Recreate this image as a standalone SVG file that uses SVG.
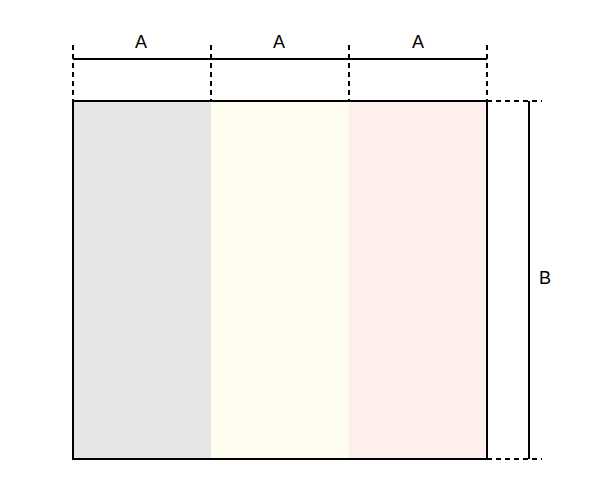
<svg xmlns="http://www.w3.org/2000/svg" width="593" height="480" viewBox="0 0 593 480">
<style>
.s{stroke:#000;stroke-width:2;fill:none}
.d{stroke:#000;stroke-width:2;fill:none;stroke-dasharray:5 4}
.t{font-family:"Liberation Sans",Arial,sans-serif;font-size:18px;fill:#000;text-anchor:middle}
</style>
<rect width="593" height="480" fill="#fff"/>
<g id="col1"><rect x="73" y="101" width="138" height="358" fill="#e6e6e6"/></g>
<g id="col2"><rect x="211" y="101" width="138" height="358" fill="#fffdf0"/></g>
<g id="col3"><rect x="349" y="101" width="138" height="358" fill="#ffefec"/></g>
<g id="frame"><rect x="73" y="101" width="414" height="358" class="s"/></g>
<g id="connectors">
<line x1="73" y1="45" x2="73" y2="101" class="d"/>
<line x1="211" y1="45" x2="211" y2="101" class="d"/>
<line x1="349" y1="45" x2="349" y2="101" class="d"/>
<line x1="487" y1="45" x2="487" y2="101" class="d"/>
<line x1="73" y1="59" x2="487" y2="59" class="s"/>
<line x1="487" y1="101" x2="542" y2="101" class="d"/>
<line x1="487" y1="459" x2="542" y2="459" class="d"/>
<line x1="529" y1="101" x2="529" y2="459" class="s"/>
</g>
<g id="labels">
<text x="141" y="48" class="t">A</text>
<text x="279" y="48" class="t">A</text>
<text x="418" y="48" class="t">A</text>
<text x="545" y="284" class="t">B</text>
</g>
</svg>
